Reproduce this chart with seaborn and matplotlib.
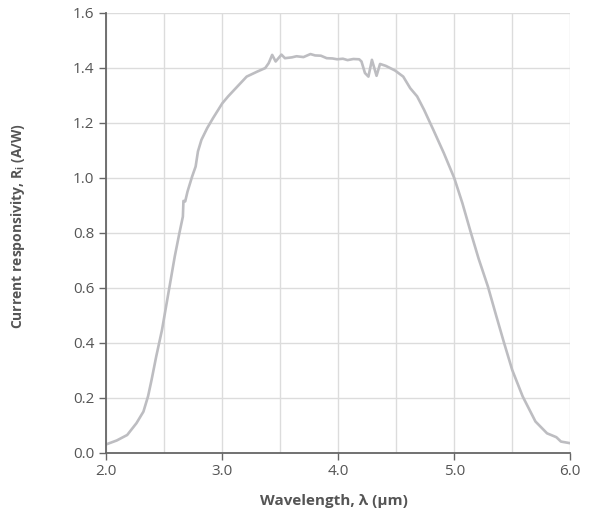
import numpy as np
import pandas as pd
import matplotlib
matplotlib.use("Agg")
import matplotlib.pyplot as plt
from matplotlib.ticker import MultipleLocator, FormatStrFormatter
import seaborn as sns


# values
wavelength = [
    2.00, 2.09, 2.18, 2.26, 2.32, 2.36, 2.39, 2.43, 2.48, 2.52, 2.56, 2.59,
    2.63, 2.66, 2.665, 2.68, 2.70, 2.74, 2.77, 2.79, 2.82, 2.87, 2.92, 3.00,
    3.05, 3.13, 3.21, 3.30, 3.37, 3.40, 3.43, 3.46, 3.51, 3.54, 3.60, 3.64,
    3.70, 3.76, 3.80, 3.85, 3.90, 3.95, 3.99, 4.04, 4.08, 4.13, 4.18, 4.20,
    4.23, 4.26, 4.29, 4.33, 4.36, 4.41, 4.49, 4.56, 4.62, 4.68, 4.74, 4.82,
    4.91, 5.00, 5.07, 5.14, 5.21, 5.29, 5.36, 5.43, 5.50, 5.59, 5.70, 5.80,
    5.88, 5.92, 6.00,
]
responsivity = [
    0.030, 0.044, 0.064, 0.107, 0.149, 0.205, 0.264, 0.349, 0.446, 0.543,
    0.640, 0.713, 0.798, 0.858, 0.915, 0.913, 0.949, 1.004, 1.040, 1.095,
    1.137, 1.180, 1.216, 1.270, 1.295, 1.331, 1.367, 1.385, 1.398, 1.416,
    1.446, 1.422, 1.447, 1.434, 1.437, 1.441, 1.438, 1.449, 1.444, 1.443,
    1.434, 1.433, 1.430, 1.432, 1.427, 1.431, 1.430, 1.422, 1.380, 1.367,
    1.428, 1.370, 1.413, 1.406, 1.389, 1.367, 1.325, 1.295, 1.246, 1.173,
    1.089, 0.998, 0.907, 0.804, 0.705, 0.604, 0.500, 0.398, 0.300, 0.204,
    0.113, 0.070, 0.056, 0.040, 0.034,
]

df = pd.DataFrame({"wavelength": wavelength, "responsivity": responsivity})

sns.set_style("white")
plt.rcParams["font.family"] = ["Open Sans", "DejaVu Sans"]
plt.rcParams["mathtext.fontset"] = "custom"
plt.rcParams["mathtext.rm"] = "Open Sans:bold"

text_grey = "#555555"
axis_grey = "#666666"

fig = plt.figure(figsize=(5.94, 5.22), dpi=100)
ax = fig.add_axes([0.179, 0.133, 0.781, 0.843])

sns.lineplot(data=df, x="wavelength", y="responsivity", ax=ax,
             color="#bdbdc1", linewidth=1.9)

ax.set_xlim(2.0, 6.0)
ax.set_ylim(0.0, 1.6)
ax.xaxis.set_major_locator(MultipleLocator(1.0))
ax.xaxis.set_minor_locator(MultipleLocator(0.5))
ax.yaxis.set_major_locator(MultipleLocator(0.2))
ax.xaxis.set_major_formatter(FormatStrFormatter("%.1f"))
ax.yaxis.set_major_formatter(FormatStrFormatter("%.1f"))

ax.grid(True, which="both", color="#dcdcdc", linewidth=1.0)
ax.set_axisbelow(True)

sns.despine(ax=ax)
for side in ["left", "bottom"]:
    ax.spines[side].set_color(axis_grey)
    ax.spines[side].set_linewidth(1.3)

ax.tick_params(axis="both", which="major", direction="out", length=5,
               width=1.0, color=axis_grey, labelcolor=text_grey, labelsize=11,
               left=True, bottom=True)
ax.tick_params(axis="x", which="minor", length=0)

ax.set_xlabel("Wavelength, \u03bb (\u03bcm)", fontsize=11, fontweight="bold",
              color=text_grey)
ax.set_ylabel("Current responsivity, R$_\\mathregular{i}$ (A/W)", fontsize=10,
              fontweight="bold", color=text_grey)
ax.xaxis.set_label_coords(0.49, -0.095)
ax.yaxis.set_label_coords(-0.172, 0.516)

fig.savefig("out.png", dpi=100)
